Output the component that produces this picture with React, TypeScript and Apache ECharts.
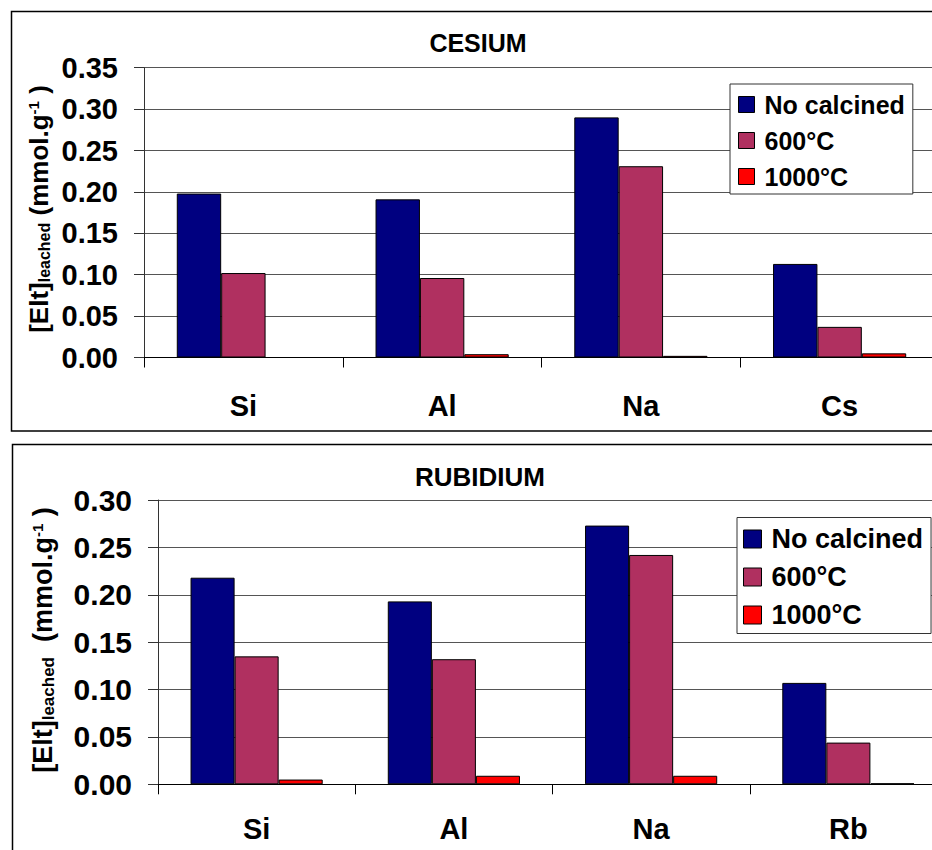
import React, { useEffect, useRef } from "react";
import * as echarts from "echarts";

const cesiumCategories = ["Si", "Al", "Na", "Cs"];
const rubidiumCategories = ["Si", "Al", "Na", "Rb"];
const seriesNames = ["No calcined", "600°C", "1000°C"];
const seriesColors = ["#000080", "#B03060", "#FF0000"];

const cesiumNoCalcined = [0.198, 0.191, 0.29, 0.113];
const cesium600 = [0.102, 0.096, 0.231, 0.037];
const cesium1000 = [0, 0.004, 0.002, 0.005];

const rubidiumNoCalcined = [0.218, 0.193, 0.273, 0.107];
const rubidium600 = [0.135, 0.132, 0.242, 0.044];
const rubidium1000 = [0.005, 0.009, 0.009, 0.001];

const cesiumAxisMax = 0.35;
const rubidiumAxisMax = 0.3;
const axisStep = 0.05;

const FONT = "'Liberation Sans', Arial, Helvetica, sans-serif";

export default function App() {
  const ref = useRef<HTMLDivElement>(null);

  useEffect(() => {
    if (!ref.current) return;
    const chart = echarts.init(ref.current, undefined, { renderer: "svg" });

    const xAxisBase = (data: string[], gridIndex: number, fs: number, margin: number) => ({
      type: "category",
      gridIndex,
      data,
      axisLine: { show: true, lineStyle: { color: "#000", width: 1 } },
      axisTick: { show: true, length: 10, lineStyle: { color: "#000", width: 1 } },
      axisLabel: {
        fontSize: fs,
        fontWeight: "bold",
        fontFamily: FONT,
        color: "#000",
        margin,
      },
      splitLine: { show: false },
    });

    const yAxisBase = (max: number, gridIndex: number, fs: number) => ({
      type: "value",
      gridIndex,
      min: 0,
      max,
      interval: axisStep,
      axisLine: { show: true, lineStyle: { color: "#333", width: 1 } },
      axisTick: { show: true, length: 10, lineStyle: { color: "#333", width: 1 } },
      axisLabel: {
        fontSize: fs,
        fontWeight: "bold",
        fontFamily: FONT,
        color: "#000",
        margin: 26,
        formatter: (v: number) => v.toFixed(2),
      },
      splitLine: { show: true, lineStyle: { color: "#555", width: 1 } },
    });

    const bars = (name: string, data: number[], idx: number, color: string) => ({
      type: "bar",
      name,
      xAxisIndex: idx,
      yAxisIndex: idx,
      data,
      barGap: "0%",
      barCategoryGap: "33%",
      itemStyle: { color, borderColor: "#000", borderWidth: 1 },
      emphasis: { disabled: true },
    });

    const legendBase = (left: number, top: number, fs: number, icon: number, gap: number, pad: number[]) => ({
      data: seriesNames,
      orient: "vertical",
      left,
      top,
      itemWidth: icon,
      itemHeight: icon,
      itemGap: gap,
      padding: pad,
      icon: "rect",
      backgroundColor: "#fff",
      borderColor: "#333",
      borderWidth: 1,
      borderRadius: 0,
      itemStyle: { borderColor: "#000", borderWidth: 1 },
      textStyle: {
        fontSize: fs,
        fontWeight: "bold",
        fontFamily: FONT,
        color: "#000",
        padding: [0, 0, 0, 5],
      },
      selectedMode: false,
    });

    const yName = (x: number, y: number, fs: number, sub: number, sup: number, gap: string) => ({
      type: "text",
      x,
      y,
      rotation: Math.PI / 2,
      style: {
        text: `{a|[Elt]}{b|leached}{a|${gap}(mmol.g}{c|-1}{a| )}`,
        align: "center",
        verticalAlign: "middle",
        textAlign: "center",
        textVerticalAlign: "middle",
        fill: "#000",
        rich: {
          a: { fontSize: fs, fontWeight: "bold", fontFamily: FONT, fill: "#000", color: "#000" },
          b: { fontSize: sub, fontWeight: "bold", fontFamily: FONT, fill: "#000", color: "#000", verticalAlign: "bottom" },
          c: { fontSize: sup, fontWeight: "bold", fontFamily: FONT, fill: "#000", color: "#000", verticalAlign: "top" },
        },
      },
    });

    const titleText = (text: string, x: number, y: number, fs: number) => ({
      type: "text",
      x,
      y,
      style: {
        text,
        align: "center",
        verticalAlign: "middle",
        textAlign: "center",
        textVerticalAlign: "middle",
        fontSize: fs,
        fontWeight: "bold",
        fontFamily: FONT,
        fill: "#000",
      },
    });

    chart.setOption({
      animation: false,
      backgroundColor: "#fff",
      color: seriesColors,
      grid: [
        { left: 144, top: 67.7, width: 795, height: 289.8, outerBoundsMode: "none", containLabel: false },
        { left: 158, top: 500, width: 789, height: 284.3, outerBoundsMode: "none", containLabel: false },
      ],
      xAxis: [
        xAxisBase(cesiumCategories, 0, 29, 34),
        xAxisBase(rubidiumCategories, 1, 29, 30),
      ],
      yAxis: [yAxisBase(cesiumAxisMax, 0, 29), yAxisBase(rubidiumAxisMax, 1, 30)],
      legend: [
        legendBase(730, 84, 25, 16, 11, [8, 8, 5, 8]),
        legendBase(737, 517.5, 27, 18, 11, [8, 8, 5, 6]),
      ],
      tooltip: { show: false },
      series: [
        bars(seriesNames[0], cesiumNoCalcined, 0, seriesColors[0]),
        bars(seriesNames[1], cesium600, 0, seriesColors[1]),
        bars(seriesNames[2], cesium1000, 0, seriesColors[2]),
        bars(seriesNames[0], rubidiumNoCalcined, 1, seriesColors[0]),
        bars(seriesNames[1], rubidium600, 1, seriesColors[1]),
        bars(seriesNames[2], rubidium1000, 1, seriesColors[2]),
      ],
      graphic: [
        {
          type: "rect",
          shape: { x: 11.5, y: 11.5, width: 980, height: 419.5 },
          style: { fill: "none", stroke: "#000", lineWidth: 1.5 },
          silent: true,
          z: 100,
        },
        {
          type: "rect",
          shape: { x: 12.5, y: 444.5, width: 980, height: 420 },
          style: { fill: "none", stroke: "#000", lineWidth: 1.5 },
          silent: true,
          z: 100,
        },
        titleText("CESIUM", 478, 43, 25),
        titleText("RUBIDIUM", 480, 477, 26),
        yName(39, 209, 26, 16, 15, " "),
        yName(43, 640, 27, 17, 15, "  "),
      ],
    });

    return () => chart.dispose();
  }, []);

  return (
    <div
      style={{
        position: "fixed",
        left: 0,
        top: 0,
        width: 932,
        height: 850,
        overflow: "hidden",
        background: "#fff",
      }}
    >
      <div ref={ref} style={{ width: 980, height: 850 }} />
    </div>
  );
}
